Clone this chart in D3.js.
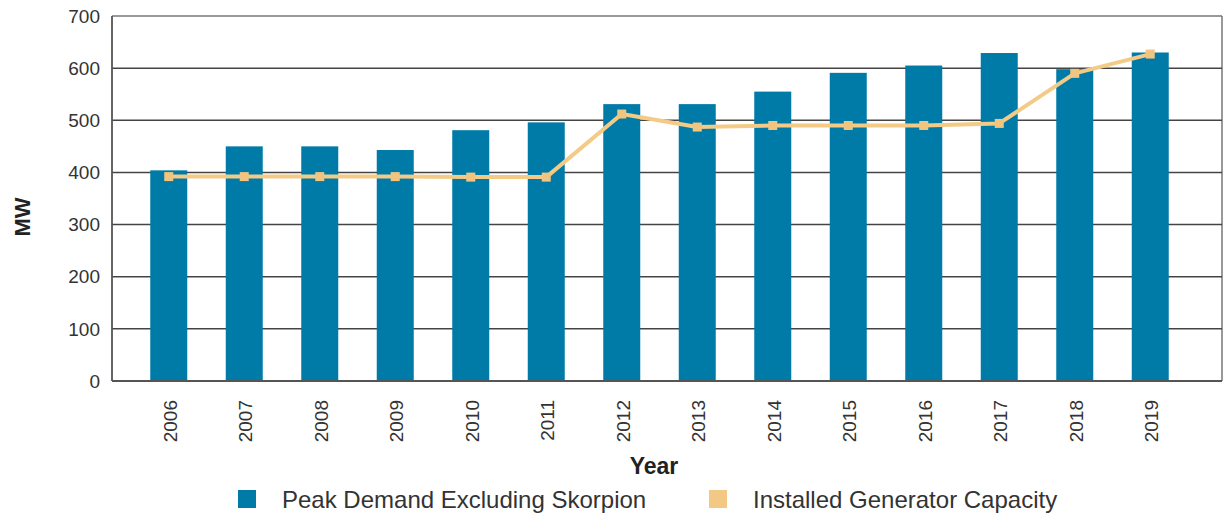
<!DOCTYPE html>
<html><head><meta charset="utf-8">
<script src="https://cdn.jsdelivr.net/npm/d3@7"></script>
<style>body{margin:0;background:#fff}svg{display:block;font-family:"Liberation Sans",Arial,sans-serif}</style>
</head><body><svg id="c" width="1224" height="515"></svg>
<script>
const years = ["2006","2007","2008","2009","2010","2011","2012","2013","2014","2015","2016","2017","2018","2019"];
const peakDemand = [404,450,450,443,481,496,531,531,555,591,605,629,598,630];
const installedCapacity = [392,392,392,392,391,391,512,487,490,490,490,494,590,627];
const yTicks = [0,100,200,300,400,500,600,700];
const seriesNames = ["Peak Demand Excluding Skorpion","Installed Generator Capacity"];

const svg = d3.select("#c");
const L=112, R=1222, T=16, B=381;
const x = d3.scaleBand().domain(years).range([131,1188]).paddingInner(0.51).paddingOuter(0.255);
const y = d3.scaleLinear().domain([0,700]).range([B,T]);
const barColor="#007BA8", lineColor="#F3CB86";

// frame
svg.append("line").attr("x1",L).attr("x2",R).attr("y1",T).attr("y2",T).attr("stroke","#777").attr("stroke-width",1.5);
svg.append("line").attr("x1",R).attr("x2",R).attr("y1",T).attr("y2",B).attr("stroke","#777").attr("stroke-width",1.5);
// gridlines
svg.append("g").selectAll("line").data(yTicks.filter(d=>d>0 && d<700)).join("line")
  .attr("x1",L).attr("x2",R).attr("y1",d=>y(d)).attr("y2",d=>y(d))
  .attr("stroke","#444").attr("stroke-width",1.5);

// bars
svg.append("g").selectAll("rect").data(years).join("rect")
  .attr("x",d=>x(d)).attr("width",x.bandwidth())
  .attr("y",(d,i)=>y(peakDemand[i])).attr("height",(d,i)=>B-y(peakDemand[i]))
  .attr("fill",barColor);

// axes lines
svg.append("line").attr("x1",L).attr("x2",L).attr("y1",T).attr("y2",B).attr("stroke","#555").attr("stroke-width",1.8);
svg.append("line").attr("x1",L).attr("x2",R).attr("y1",B).attr("y2",B).attr("stroke","#555").attr("stroke-width",1.8);

// line
const line = d3.line().x((d,i)=>x(years[i])+x.bandwidth()/2).y(d=>y(d));
svg.append("path").datum(installedCapacity).attr("d",line).attr("fill","none")
  .attr("stroke",lineColor).attr("stroke-width",4).attr("stroke-linejoin","round");
svg.append("g").selectAll("rect").data(installedCapacity).join("rect")
  .attr("x",(d,i)=>x(years[i])+x.bandwidth()/2-4.5).attr("y",d=>y(d)-4.5)
  .attr("width",9).attr("height",9).attr("fill","#F1C580");

// y tick labels
svg.append("g").selectAll("text").data(yTicks).join("text")
  .attr("x",100).attr("y",d=>y(d)).attr("dy","0.35em").attr("text-anchor","end")
  .attr("font-size",19).attr("fill","#333").text(d=>d);
// x tick labels
svg.append("g").selectAll("text").data(years).join("text")
  .attr("transform",d=>`translate(${x(d)+x.bandwidth()/2+1},400) rotate(-90)`)
  .attr("text-anchor","end").attr("dy","0.36em")
  .attr("font-size",19).attr("fill","#333").text(d=>d);

// axis titles
svg.append("text").attr("transform","translate(30,217) rotate(-90)").attr("text-anchor","middle")
  .attr("font-size",22).attr("font-weight","bold").attr("fill","#222").text("MW");
svg.append("text").attr("x",654).attr("y",474).attr("text-anchor","middle")
  .attr("font-size",23).attr("font-weight","bold").attr("fill","#222").text("Year");

// legend
const leg = [{name:seriesNames[0],color:barColor,sx:238,tx:282},{name:seriesNames[1],color:"#F2C884",sx:709,tx:753}];
const lg = svg.append("g").selectAll("g").data(leg).join("g");
lg.append("rect").attr("x",d=>d.sx).attr("y",490).attr("width",18).attr("height",18).attr("fill",d=>d.color);
lg.append("text").attr("x",d=>d.tx).attr("y",508).attr("font-size",24).attr("fill","#333").text(d=>d.name);
</script></body></html>
